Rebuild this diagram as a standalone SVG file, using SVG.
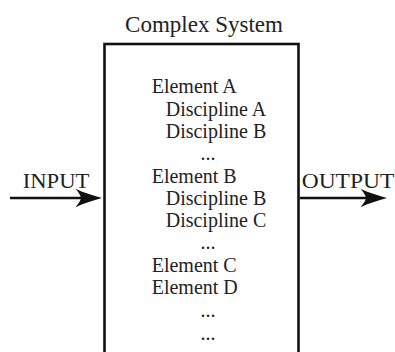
<svg xmlns="http://www.w3.org/2000/svg" width="395" height="352" viewBox="0 0 395 352">
  <style>
    text { font-family: "Liberation Serif", "Times New Roman", serif; fill: #222; }
    .title { font-size: 23px; text-anchor: middle; }
    .item { font-size: 20px; }
    .dots { font-size: 20px; text-anchor: middle; }
    .io { font-size: 21px; }
    .box { fill: #fff; stroke: #111; stroke-width: 2.6; }
    .flow { stroke: #111; stroke-width: 2.6; fill: none; }
  </style>
  <defs>
    <!-- stealth-style arrowhead, tip at origin pointing right -->
    <path id="head" d="M0,0 C-9,-2.5 -19,-5.5 -26.5,-9.2 C-23,-5 -21.5,-2.5 -21,0 C-21.5,2.5 -23,5 -26.5,9.2 C-19,5.5 -9,2.5 0,0 Z" fill="#111"/>
  </defs>
  <rect width="395" height="352" fill="#fff"/>

  <g id="system">
    <text class="title" x="204" y="32">Complex System</text>
    <rect class="box" x="104.5" y="44" width="194" height="330"/>
    <g id="contents">
      <text class="item" x="151.7" y="93.3">Element A</text>
      <text class="item" x="165.7" y="115.6">Discipline A</text>
      <text class="item" x="165.7" y="137.9">Discipline B</text>
      <text class="dots" x="208" y="160.2">...</text>
      <text class="item" x="151.7" y="182.5">Element B</text>
      <text class="item" x="165.7" y="204.8">Discipline B</text>
      <text class="item" x="165.7" y="227.1">Discipline C</text>
      <text class="dots" x="208" y="249.4">...</text>
      <text class="item" x="151.7" y="271.8">Element C</text>
      <text class="item" x="151.7" y="294.1">Element D</text>
      <text class="dots" x="208" y="316.8">...</text>
      <text class="dots" x="208" y="339.5">...</text>
    </g>
  </g>

  <g id="input">
    <text class="io" x="22.7" y="188.3" textLength="66.6" lengthAdjust="spacingAndGlyphs">INPUT</text>
  </g>
  <g id="output">
    <text class="io" x="301.7" y="188.3" textLength="92.6" lengthAdjust="spacingAndGlyphs">OUTPUT</text>
  </g>

  <g id="connectors">
    <line class="flow" x1="10" y1="198" x2="82" y2="198"/>
    <use href="#head" x="102" y="198"/>
    <line class="flow" x1="299.8" y1="198" x2="367" y2="198"/>
    <use href="#head" x="387" y="198"/>
  </g>
</svg>
